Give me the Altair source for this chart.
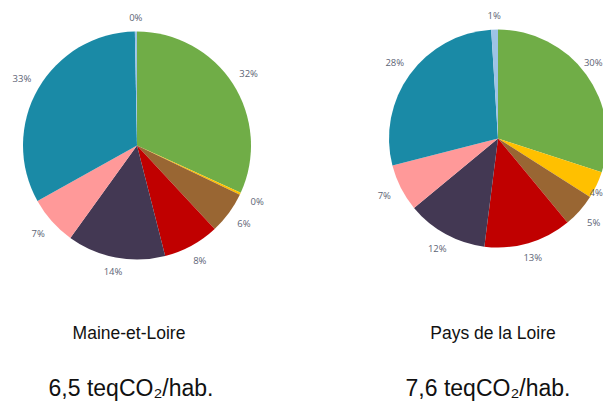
import altair as alt
import pandas as pd

sectors = ["Agriculture", "Branche énergie", "Déchets", "Industrie",
           "Résidentiel", "Tertiaire", "Transport routier", "Autres transports"]
colors = ["#70AD47", "#FFC000", "#996633", "#C00000",
          "#433853", "#FF9999", "#1A8AA6", "#9DC3E6"]

regions = ["Maine-et-Loire", "Pays de la Loire"]
totals = ["6,5 teqCO₂/hab.", "7,6 teqCO₂/hab."]
maine_values = [32, 0.3, 6, 8, 14, 7, 33, 0.3]
pdl_values = [30, 4, 5, 13, 12, 7, 28, 1]

rows = []
for region, vals in zip(regions, [maine_values, pdl_values]):
    for i, (s, v) in enumerate(zip(sectors, vals)):
        rows.append({"region": region, "sector": s, "value": v, "idx": i})
df = pd.DataFrame(rows)

W, H = 595, 395
# layout (pixels) for each pie: center x, center y, radius, title x, total x
layout = [
    dict(cx=129, cy=137.5, r=114, tx=121, sx=123),
    dict(cx=490, cy=130.5, r=109, tx=485, sx=480),
]

base = alt.Chart(df)
color_scale = alt.Scale(domain=sectors, range=colors)
layers = []
for region, total, lay in zip(regions, totals, layout):
    sub = base.transform_filter(alt.datum.region == region)
    arc = sub.mark_arc(x=lay["cx"], y=lay["cy"], radius=lay["r"]).encode(
        theta=alt.Theta("value:Q", stack=True),
        color=alt.Color("sector:N", scale=color_scale, legend=None),
        order=alt.Order("idx:Q"),
    )
    lbl = sub.transform_window(
        cum="sum(value)", sort=[alt.SortField("idx")], frame=[None, 0]
    ).transform_joinaggregate(
        tot="sum(value)"
    ).transform_calculate(
        mid="(datum.cum - datum.value / 2) / datum.tot * 2 * PI",
        label="format(datum.value, '.0f') + '%'",
    ).transform_calculate(
        rad=f"{lay['r']} + 7 + 10 * abs(sin(datum.mid)) + 6 * abs(cos(datum.mid))"
    ).transform_calculate(
        lx=f"min({lay['cx']} + datum.rad * sin(datum.mid), {W - 1} - 2.9 * length(datum.label))",
        ly=f"{lay['cy']} - datum.rad * cos(datum.mid)",
    ).mark_text(
        font="Open Sans", fontSize=9.5, color="#5D6475", baseline="middle",
    ).encode(
        x=alt.X("lx:Q", scale=None),
        y=alt.Y("ly:Q", scale=None),
        text="label:N",
    )
    title = alt.Chart(pd.DataFrame({"t": [region]})).mark_text(
        x=lay["tx"], y=331, baseline="alphabetic", align="center",
        font="Liberation Sans", fontSize=17.5, color="#111111",
    ).encode(text="t:N")
    tot = alt.Chart(pd.DataFrame({"t": [total]})).mark_text(
        x=lay["sx"], y=388, baseline="alphabetic", align="center",
        font="Liberation Sans", fontSize=23, color="#111111",
    ).encode(text="t:N")
    layers += [arc, lbl, title, tot]

chart = alt.layer(*layers).resolve_scale(theta="independent").properties(
    width=W, height=H,
    autosize=alt.AutoSizeParams(type="none"),
    padding=0,
    background="white",
).configure_view(stroke=None)

chart.save("out.html", embed_options={"renderer": "svg", "actions": False})
